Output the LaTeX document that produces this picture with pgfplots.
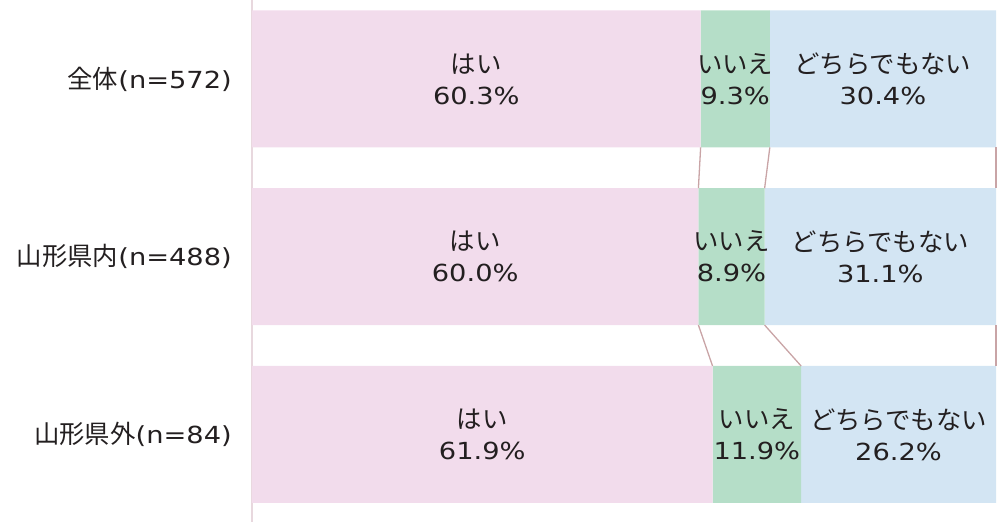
\documentclass[border=0pt]{standalone}
\usepackage{fontspec}
\setmainfont[FakeStretch=1.16]{DejaVu Sans}
\newfontfamily\jp[Scale=1.08]{Noto Sans CJK JP}
\usepackage{pgfplots}
\pgfplotsset{compat=1.18}
\definecolor{cpink}{HTML}{F2DCEC}
\definecolor{cgreen}{HTML}{B5DEC8}
\definecolor{cblue}{HTML}{D3E5F3}
\definecolor{cline}{HTML}{C9A4A6}
\definecolor{caxis}{HTML}{E8D8DE}
\definecolor{txt}{HTML}{231F20}
\begin{document}
\begin{tikzpicture}
\pgfplotsset{common/.style={
  scale only axis, width=744pt, height=522pt,
  xmin=0, xmax=100, ymin=-0.444, ymax=2.493, y dir=reverse,
  clip=false}}
\begin{axis}[common, name=ax,
  xbar stacked, bar width=0.77,
  axis x line=none, axis y line*=left,
  y axis line style={-, draw=caxis, line width=1.5pt},
  xtick=\empty, ytick={0,1,2}, major tick length=0pt,
  yticklabels={{{\jp 全体}(n=572)},{{\jp 山形県内}(n=488)},{{\jp 山形県外}(n=84)}},
  yticklabel style={font=\fontsize{23.5}{28}\selectfont, text=txt, inner sep=0pt, xshift=-20pt},
]
\addplot[fill=cpink, draw=none] coordinates {(60.3,0) (60.0,1) (61.9,2)};
\addplot[fill=cgreen, draw=none] coordinates {(9.3,0) (8.9,1) (11.9,2)};
\addplot[fill=cblue, draw=none] coordinates {(30.4,0) (31.1,1) (26.2,2)};
\end{axis}
\begin{axis}[common, hide axis,
  every node near coord/.style={anchor=center, align=center, text=txt,
    font=\fontsize{23.5}{31}\selectfont},
]
\addplot[cline, line width=1.3pt] coordinates {(60.3,0.385) (60.0,0.615)};
\addplot[cline, line width=1.3pt] coordinates {(69.6,0.385) (68.9,0.615)};
\addplot[cline, line width=1.3pt] coordinates {(100,0.385) (100,0.615)};
\addplot[cline, line width=1.3pt] coordinates {(60.0,1.385) (61.9,1.615)};
\addplot[cline, line width=1.3pt] coordinates {(68.9,1.385) (73.8,1.615)};
\addplot[cline, line width=1.3pt] coordinates {(100,1.385) (100,1.615)};
\addplot[draw=none, mark=none, nodes near coords, point meta=explicit symbolic] coordinates {
  (30.15,0) [{{\jp はい}\\60.3\%}]
  (64.95,0) [{{\jp いいえ}\\9.3\%}]
  (84.8,0) [{{\jp どちらでもない}\\30.4\%}]
  (30.0,1) [{{\jp はい}\\60.0\%}]
  (64.45,1) [{{\jp いいえ}\\8.9\%}]
  (84.45,1) [{{\jp どちらでもない}\\31.1\%}]
  (30.95,2) [{{\jp はい}\\61.9\%}]
  (67.85,2) [{{\jp いいえ}\\11.9\%}]
  (86.9,2) [{{\jp どちらでもない}\\26.2\%}]
};
\end{axis}
\path (ax.south west) ++(-252pt,-2pt) coordinate (bba);
\path (ax.north east) ++(4pt,0pt) coordinate (bbb);
\pgfresetboundingbox
\path[use as bounding box] (bba) rectangle (bbb);
\end{tikzpicture}
\end{document}
